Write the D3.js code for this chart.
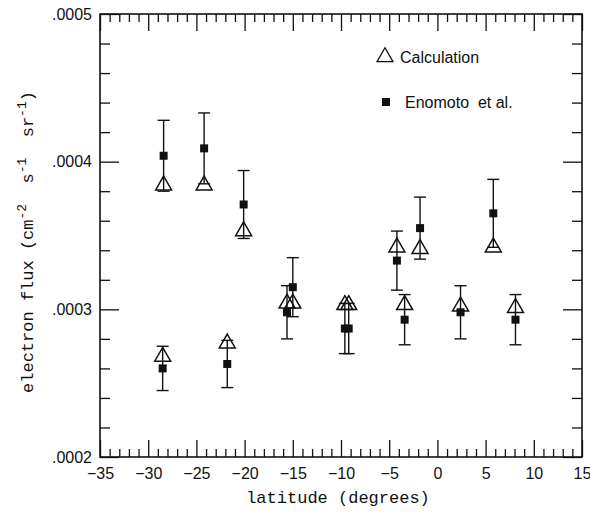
<!DOCTYPE html>
<html>
<head>
<meta charset="utf-8">
<script src="https://cdn.jsdelivr.net/npm/d3@7"></script>
<style>
  body { margin: 0; background: #fff; }
  svg { display: block; }
  text { white-space: pre; }
</style>
</head>
<body>
<svg id="chart" width="590" height="519"></svg>
<script>
// latitude of each measurement (degrees)
const latitude   = [-28.4, -24.2, -20.1, -28.5, -21.8, -15.6, -15.0, -9.6, -9.2, -4.2, -1.8, 5.8, -3.4, 2.4, 8.1];
// calculated flux (triangles)
const calculated = [.000384, .000384, .000353, .000268, .000277, .000304, .000304, .000303, .000303, .000342, .000341, .000342, .000303, .000302, .000301];
// Enomoto et al. measured flux (squares) and error
const measured   = [.000404, .000409, .000371, .000260, .000263, .000298, .000315, .000287, .000287, .000333, .000355, .000365, .000293, .000298, .000293];
const errors     = [.000024, .000024, .000023, .000015, .000016, .000018, .000020, .000017, .000017, .000020, .000021, .000023, .000017, .000018, .000017];

const xMajor = [-35, -30, -25, -20, -15, -10, -5, 0, 5, 10, 15];
const yMajor = [.0002, .0003, .0004, .0005];
const legendLabels = ["Calculation", "Enomoto  et al."];

const m = {left: 100, right: 8, top: 14, bottom: 62};
const width = 590, height = 519;
const w = width - m.left - m.right;
const h = height - m.top - m.bottom;

const svg = d3.select("#chart");
const g = svg.append("g").attr("transform", `translate(${m.left},${m.top})`);

const x = d3.scaleLinear().domain([-35, 15]).range([0, w]);
const y = d3.scaleLinear().domain([.0002, .0005]).range([h, 0]);

const xMinor = d3.range(-35, 15.01, 1).filter(v => v % 5 !== 0);
const yMinor = d3.range(0, 16).map(i => .0002 + i * .00002).filter((v, i) => i % 5 !== 0);
const fmtY = v => d3.format(".4f")(v).replace(/^0/, "");

const tickFont = "'Liberation Sans', Arial, sans-serif";
const monoFont = "'Liberation Mono', 'Courier New', monospace";

function styleAxis(sel) {
    sel.select(".domain").remove();
    sel.selectAll("line").attr("stroke", "#111").attr("stroke-width", 1.3);
    sel.selectAll("text").attr("font-family", tickFont).attr("font-size", 16).attr("fill", "#111");
}

// bottom
g.append("g").attr("transform", `translate(0,${h})`)
    .call(d3.axisBottom(x).tickValues(xMajor).tickSize(-17).tickPadding(11).tickFormat(d3.format("d")))
    .call(styleAxis);
g.append("g").attr("transform", `translate(0,${h})`)
    .call(d3.axisBottom(x).tickValues(xMinor).tickSize(-8).tickFormat(""))
    .call(styleAxis);
// top
g.append("g")
    .call(d3.axisTop(x).tickValues(xMajor).tickSize(-17).tickFormat(""))
    .call(styleAxis);
g.append("g")
    .call(d3.axisTop(x).tickValues(xMinor).tickSize(-8).tickFormat(""))
    .call(styleAxis);
// left
g.append("g")
    .call(d3.axisLeft(y).tickValues(yMajor).tickSize(-19).tickPadding(8).tickFormat(fmtY))
    .call(styleAxis);
g.append("g")
    .call(d3.axisLeft(y).tickValues(yMinor).tickSize(-10).tickFormat(""))
    .call(styleAxis);
// right
g.append("g").attr("transform", `translate(${w},0)`)
    .call(d3.axisRight(y).tickValues(yMajor).tickSize(-19).tickFormat(""))
    .call(styleAxis);
g.append("g").attr("transform", `translate(${w},0)`)
    .call(d3.axisRight(y).tickValues(yMinor).tickSize(-10).tickFormat(""))
    .call(styleAxis);

// frame
g.append("rect").attr("width", w).attr("height", h)
    .attr("fill", "none").attr("stroke", "#111").attr("stroke-width", 1.6);

const pts = latitude.map((lat, i) => ({lat, calc: calculated[i], meas: measured[i], err: errors[i]}));

// error bars
const eb = g.append("g").attr("stroke", "#111").attr("stroke-width", 1.4);
pts.forEach(d => {
    const cx = x(d.lat), y0 = y(d.meas - d.err), y1 = y(d.meas + d.err);
    eb.append("line").attr("x1", cx).attr("x2", cx).attr("y1", y0).attr("y2", y1);
    eb.append("line").attr("x1", cx - 6).attr("x2", cx + 6).attr("y1", y0).attr("y2", y0);
    eb.append("line").attr("x1", cx - 6).attr("x2", cx + 6).attr("y1", y1).attr("y2", y1);
});

const tri = d3.symbol().type(d3.symbolTriangle).size(110);
const sq = d3.symbol().type(d3.symbolSquare).size(64);

g.append("g").selectAll("path").data(pts).join("path")
    .attr("d", tri)
    .attr("transform", d => `translate(${x(d.lat)},${y(d.calc)})`)
    .attr("fill", "none").attr("stroke", "#111").attr("stroke-width", 1.5);

g.append("g").selectAll("path").data(pts).join("path")
    .attr("d", sq)
    .attr("transform", d => `translate(${x(d.lat)},${y(d.meas)})`)
    .attr("fill", "#111");

// legend
const lg = svg.append("g");
lg.append("path").attr("d", tri).attr("transform", "translate(385,57)")
    .attr("fill", "none").attr("stroke", "#111").attr("stroke-width", 1.3);
lg.append("text").attr("x", 400).attr("y", 63).text(legendLabels[0]);
lg.append("path").attr("d", sq).attr("transform", "translate(386,102)").attr("fill", "#111");
lg.append("text").attr("x", 405).attr("y", 108).text(legendLabels[1]);
lg.selectAll("text").attr("font-family", tickFont).attr("font-size", 16).attr("fill", "#111");

// axis titles
svg.append("text")
    .attr("x", m.left + w / 2 - 3).attr("y", 503)
    .attr("text-anchor", "middle")
    .attr("font-family", monoFont).attr("font-size", 17).attr("fill", "#111")
    .text("latitude (degrees)");

const yt = svg.append("text")
    .attr("transform", "translate(33,242) rotate(-90)")
    .attr("text-anchor", "middle")
    .attr("font-family", monoFont).attr("font-size", 17).attr("fill", "#111");
const parts = [["electron flux (cm", false], ["-2", true], ["  s", false], ["-1", true], ["  sr", false], ["-1", true], [")", false]];
parts.forEach(([t, sup]) => {
    yt.append("tspan")
        .attr("font-size", sup ? 13 : 17)
        .attr("baseline-shift", sup ? "super" : null)
        .text(t);
});
</script>
</body>
</html>
